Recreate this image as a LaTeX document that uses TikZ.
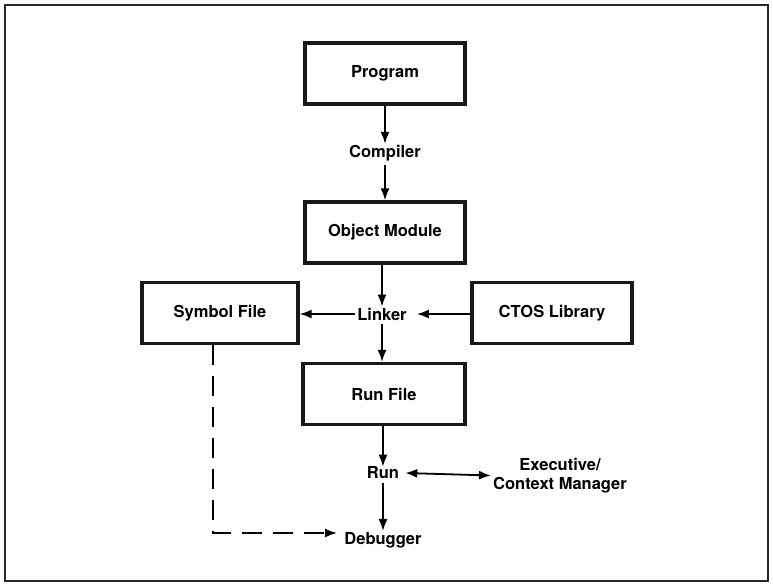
\documentclass[tikz,border=0pt]{standalone}
\usepackage{fontspec}
\setmainfont{TeX Gyre Heros}
\usetikzlibrary{arrows.meta}
\begin{document}
\begin{tikzpicture}[x=1pt,y=-1pt,
  box/.style={draw=black!90, line width=3.2pt, minimum width=#1, minimum height=61pt, inner sep=0pt, font=\fontsize{16.5}{19}\selectfont\bfseries},
  box/.default=160pt,
  lbl/.style={inner sep=2pt, font=\fontsize{16.5}{19.5}\selectfont\bfseries, align=center},
  arr/.style={line width=1.8pt, -{Latex[length=12pt,width=9pt]}},
  darr/.style={line width=1.8pt, {Latex[length=12pt,width=9pt]}-{Latex[length=12pt,width=9pt]}},
  dsh/.style={line width=1.6pt, dash pattern=on 20pt off 11pt, -{Latex[length=12pt,width=9pt]}}]
\useasboundingbox (0,0) rectangle (773,585);
\draw[line width=2pt, black!85] (5,5) rectangle (768,581);
\node[box] (prog) at (385,73.5) {Program};
\node[lbl] (comp) at (385,153) {Compiler};
\node[box] (obj) at (385,232.5) {Object Module};
\node[lbl] (link) at (382,314) {Linker};
\node[box=156pt] (sym) at (220,313) {Symbol File};
\node[box=160pt] (ctos) at (552,313) {CTOS Library};
\node[box=162pt] (runf) at (384,394) {Run File};
\node[lbl] (run) at (383,473) {Run};
\node[lbl] (exec) at (560,475.5) {Executive/\\Context Manager};
\node[lbl] (dbg) at (383,540) {Debugger};
\coordinate (corner) at (213,533);
\coordinate (dbgin) at (337,533);
\draw[arr] (prog.south) -- ([yshift=-1pt]comp.north);
\draw[arr] ([yshift=-2pt]comp.south) -- (obj.north);
\draw[arr] (obj.south -| link) -- ([yshift=-1pt]link.north);
\draw[arr] (link.west) -- (link.west -| sym.east);
\draw[arr] (link.east -| ctos.west) -- ([xshift=8pt]link.east);
\draw[arr] ([yshift=-2pt]link.south) -- (link.south |- runf.north);
\draw[arr] (runf.south -| run) -- ([yshift=-2pt]run.north);
\draw[darr] ([xshift=4pt]run.east) -- (exec.west);
\draw[arr] ([yshift=-2pt]run.south) -- ([yshift=-1pt]dbg.north);
\draw[dsh] (sym.south -| corner) -- (corner) -- (dbgin);
\end{tikzpicture}
\end{document}
